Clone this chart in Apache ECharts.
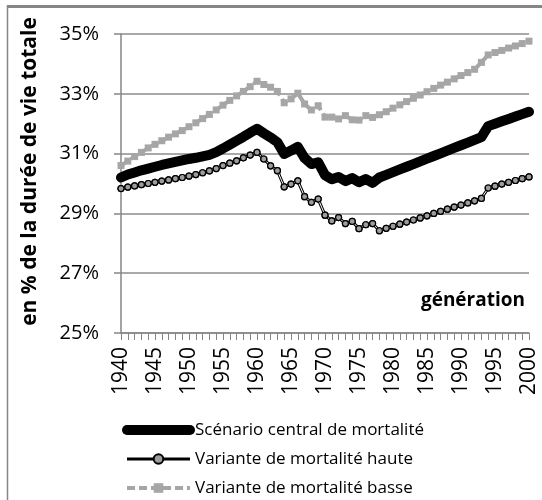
<!DOCTYPE html>
<html>
<head>
<meta charset="utf-8">
<script src="https://cdn.jsdelivr.net/npm/echarts@6/dist/echarts.min.js"></script>
<style>
  html, body { margin: 0; padding: 0; background: #fff; }
  #chart { width: 542px; height: 500px; }
</style>
</head>
<body>
<div id="chart"></div>
<script>
// générations
const years = ['1940','1941','1942','1943','1944','1945','1946','1947','1948','1949',
  '1950','1951','1952','1953','1954','1955','1956','1957','1958','1959',
  '1960','1961','1962','1963','1964','1965','1966','1967','1968','1969',
  '1970','1971','1972','1973','1974','1975','1976','1977','1978','1979',
  '1980','1981','1982','1983','1984','1985','1986','1987','1988','1989',
  '1990','1991','1992','1993','1994','1995','1996','1997','1998','1999','2000']

// en % de la durée de vie totale
const central = [30.20,30.30,30.37,30.44,30.50,30.56,30.62,30.67,30.72,30.77,
  30.82,30.86,30.91,30.96,31.05,31.17,31.30,31.43,31.56,31.70,
  31.83,31.68,31.54,31.38,30.99,31.10,31.23,30.85,30.65,30.71,
  30.28,30.14,30.22,30.08,30.18,30.04,30.15,30.02,30.20,30.29,
  30.38,30.47,30.56,30.65,30.74,30.83,30.92,31.01,31.10,31.19,
  31.28,31.37,31.46,31.55,31.92,32.00,32.08,32.16,32.24,32.32,32.40]

const haute = [29.83,29.88,29.92,29.96,30.00,30.04,30.08,30.12,30.16,30.20,
  30.25,30.30,30.36,30.42,30.50,30.60,30.68,30.76,30.86,30.95,
  31.04,30.82,30.59,30.43,29.89,29.98,30.09,29.56,29.37,29.48,
  28.94,28.75,28.86,28.66,28.73,28.49,28.62,28.66,28.42,28.50,
  28.57,28.64,28.71,28.78,28.85,28.92,29.00,29.07,29.14,29.21,
  29.28,29.35,29.42,29.50,29.85,29.91,29.98,30.04,30.10,30.16,30.22]

const basse = [30.60,30.75,30.90,31.04,31.19,31.31,31.43,31.55,31.66,31.77,
  31.90,32.03,32.17,32.31,32.46,32.62,32.78,32.93,33.08,33.24,
  33.42,33.31,33.22,33.08,32.70,32.83,33.02,32.66,32.46,32.60,
  32.22,32.22,32.16,32.27,32.13,32.12,32.27,32.21,32.30,32.40,
  32.52,32.63,32.74,32.85,32.96,33.07,33.18,33.29,33.39,33.50,
  33.61,33.71,33.82,34.05,34.30,34.38,34.45,34.53,34.60,34.68,34.76]

const yTicks = { min: 25, max: 35, interval: 2 }

const names = ['Scénario central de mortalité', 'Variante de mortalité haute', 'Variante de mortalité basse']
const font = 'Open Sans'

const chart = echarts.init(document.getElementById('chart'))
const option = {
  animation: false,
  backgroundColor: '#fff',
  textStyle: { fontFamily: font, color: '#000' },
  title: {
    text: 'génération',
    right: 17,
    top: 291,
    padding: 0,
    textStyle: { fontFamily: font, fontSize: 19, fontWeight: 'bold', color: '#000' }
  },
  graphic: [
    { type: 'line', shape: { x1: 8, y1: 6.5, x2: 542, y2: 6.5 }, style: { stroke: '#868686', lineWidth: 3 } },
    { type: 'line', shape: { x1: 7.5, y1: 5, x2: 7.5, y2: 500 }, style: { stroke: '#868686', lineWidth: 1.5 } }
  ],
  legend: {
    data: [
      { name: names[0], lineStyle: { width: 10, cap: 'round', color: '#000' }, itemStyle: { color: '#000' } },
      { name: names[1], lineStyle: { width: 3, color: '#000' } },
      { name: names[2], lineStyle: { width: 4, color: '#a6a6a6', type: [8, 4] } }
    ],
    orient: 'vertical',
    left: 122,
    top: 420,
    height: 80,
    padding: 0,
    itemWidth: 63,
    itemHeight: 12,
    itemGap: 9,
    textStyle: { fontFamily: font, fontSize: 17, color: '#000', lineHeight: 20, padding: [0, 0, 0, 0] }
  },
  grid: { left: 121, right: 13, top: 34, bottom: 167, containLabel: false },
  xAxis: {
    type: 'category',
    data: years,
    boundaryGap: false,
    axisLine: { lineStyle: { color: '#868686', width: 1.5 } },
    axisTick: { show: true, interval: 0, length: 7, lineStyle: { color: '#868686', width: 1 } },
    axisLabel: { interval: 4, rotate: 90, margin: 14, fontFamily: font, fontSize: 21, color: '#000' },
    splitLine: { show: false }
  },
  yAxis: {
    type: 'value',
    min: yTicks.min,
    max: yTicks.max,
    interval: yTicks.interval,
    name: 'en % de la durée de vie totale',
    nameLocation: 'middle',
    nameRotate: 90,
    nameGap: 80,
    nameTextStyle: { fontFamily: font, fontSize: 21, fontWeight: 'bold', color: '#000', padding: [0, 0, 0, 24] },
    axisLine: { show: true, lineStyle: { color: '#868686', width: 1.5 } },
    axisTick: { show: true, length: 7, lineStyle: { color: '#868686', width: 1.5 } },
    axisLabel: { formatter: '{value}%', margin: 22, fontFamily: font, fontSize: 20, color: '#000' },
    splitLine: { lineStyle: { color: '#8c8c8c', width: 1.5 } }
  },
  series: [
    {
      name: names[2],
      type: 'line',
      data: basse,
      symbol: 'rect',
      symbolSize: 7,
      showAllSymbol: true,
      itemStyle: { color: '#a6a6a6' },
      lineStyle: { color: '#a6a6a6', width: 4, type: [8, 4] },
      z: 2
    },
    {
      name: names[1],
      type: 'line',
      data: haute,
      symbol: 'circle',
      symbolSize: 6,
      showAllSymbol: true,
      itemStyle: { color: '#9d9d9d', borderColor: '#000', borderWidth: 1.2 },
      lineStyle: { color: '#000', width: 3 },
      z: 3
    },
    {
      name: 'haute_inner',
      type: 'line',
      data: haute,
      symbol: 'none',
      silent: true,
      lineStyle: { color: '#fff', width: 1 },
      z: 4
    },
    {
      name: 'haute_marks',
      type: 'line',
      data: haute,
      symbol: 'circle',
      symbolSize: 6,
      showAllSymbol: true,
      silent: true,
      itemStyle: { color: '#9d9d9d', borderColor: '#000', borderWidth: 1.2 },
      lineStyle: { width: 0, opacity: 0 },
      z: 5
    },
    {
      name: names[0],
      type: 'line',
      data: central,
      symbol: 'circle',
      showSymbol: false,
      itemStyle: { color: '#000' },
      lineStyle: { color: '#000', width: 10, cap: 'round', join: 'round' },
      z: 6
    }
  ]
}
chart.setOption(option)
</script>
</body>
</html>
